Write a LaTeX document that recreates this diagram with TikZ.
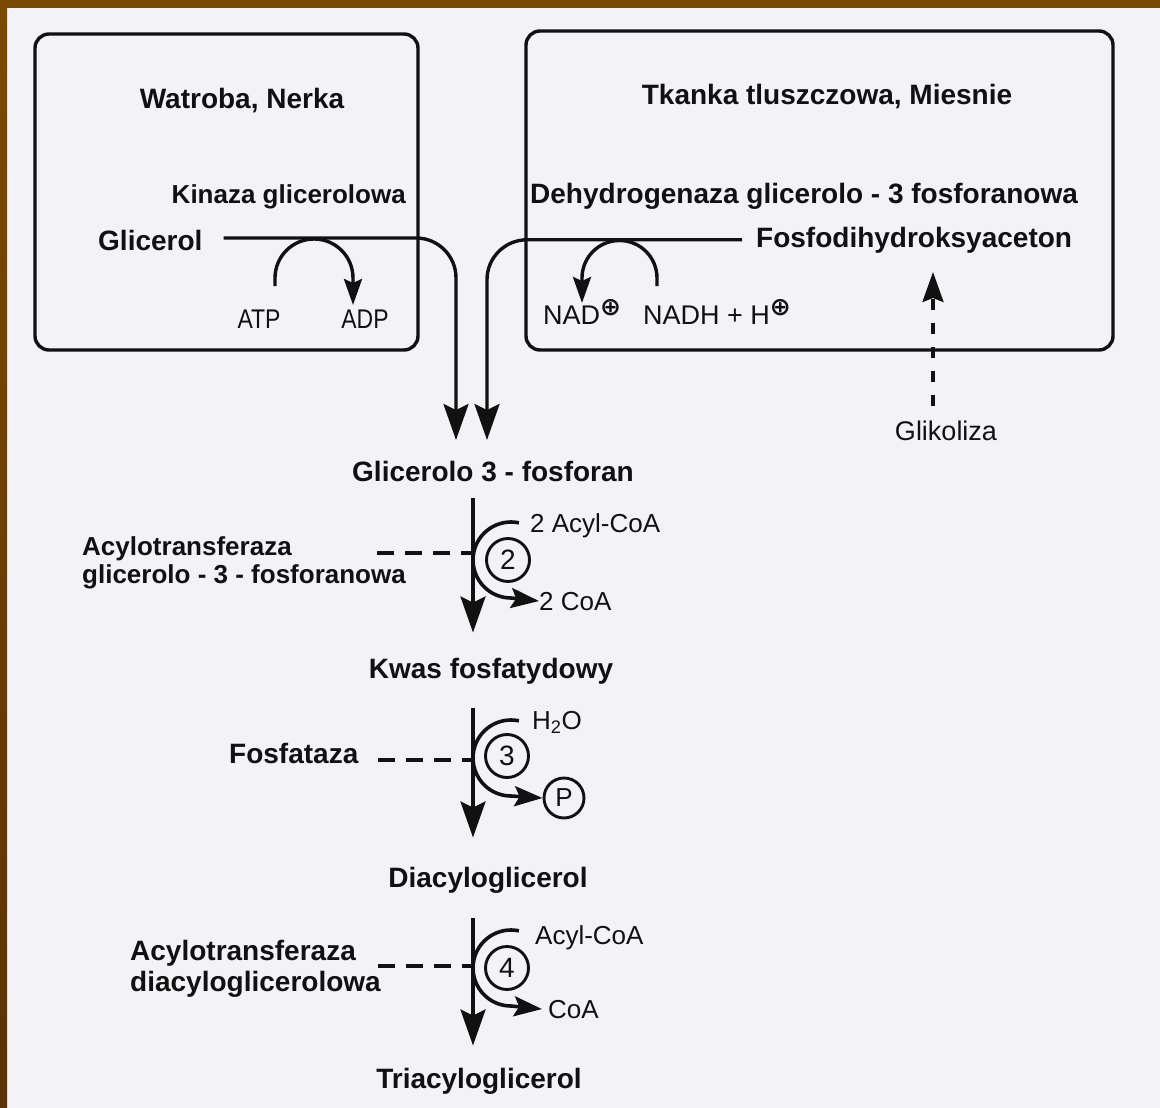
\documentclass[tikz,border=0pt]{standalone}
\usepackage{fontspec}
\setmainfont{Liberation Sans}
\newfontfamily\symfont{DejaVu Sans}
\usepackage{graphicx}
\usetikzlibrary{arrows.meta}
\definecolor{bgc}{RGB}{243,243,247}
\definecolor{frametop}{RGB}{122,74,2}
\definecolor{framebot}{RGB}{92,50,6}
\definecolor{ink}{RGB}{17,17,17}
\tikzset{
  lbl/.style={inner sep=0pt, text=ink, font=\fontsize{28}{32}\selectfont\bfseries},
  lblsm/.style={inner sep=0pt, text=ink, font=\fontsize{26}{30}\selectfont\bfseries},
  reg/.style={inner sep=0pt, text=ink, font=\fontsize{26}{30}\selectfont},
  boxst/.style={draw=ink, line width=3.4pt, rounded corners=14pt},
  mainline/.style={draw=ink, line width=3.4pt, -{Stealth[length=36pt,width=25pt,inset=6pt]}},
  sidearc/.style={draw=ink, line width=3.6pt, -{Stealth[length=28pt,width=20pt,inset=5pt]}},
  cofarc/.style={draw=ink, line width=3.4pt, -{Stealth[length=26pt,width=18pt,inset=4pt]}},
  enz/.style={draw=ink, line width=3.6pt, dash pattern=on 17pt off 11pt},
  glikst/.style={draw=ink, line width=3.2pt, dash pattern=on 11pt off 13pt, -{Stealth[length=30pt,width=21pt,inset=4pt]}},
  numc/.style={circle, draw=ink, line width=2.9pt, minimum size=43pt, inner sep=0pt, text=ink, font=\fontsize{28}{30}\selectfont},
  pc/.style={circle, draw=ink, line width=2.9pt, minimum size=40pt, inner sep=0pt, text=ink, font=\fontsize{26}{28}\selectfont},
}
\newcommand{\plusc}{\raisebox{9pt}{\symfont\bfseries\fontsize{25}{25}\selectfont ⊕}}
\begin{document}
\begin{tikzpicture}[x=1pt,y=1pt]
% background and frame
\fill[bgc] (0,0) rectangle (1160,-1108);
\fill[frametop] (0,0) rectangle (1160,-8);
\shade[top color=frametop, bottom color=framebot] (0,0) rectangle (7,-1108);
\useasboundingbox (0,0) rectangle (1160,-1108);

% boxes
\draw[boxst] (35,-34) rectangle (418,-350);
\draw[boxst] (526,-31) rectangle (1113,-350);

% titles
\node[lbl, anchor=base] (liver) at (242,-109) {Watroba, Nerka};
\node[lbl, anchor=base] (tissue) at (827,-104) {Tkanka tluszczowa, Miesnie};

% enzymes top
\node[lbl, anchor=base east, font=\fontsize{26}{30}\selectfont\bfseries] (kinaza) at (406,-203) {Kinaza glicerolowa};
\node[lbl, anchor=base west] (dehyd) at (530,-203) {Dehydrogenaza glicerolo - 3 fosforanowa};

% substrates top
\node[lbl, anchor=base west] (glicerol) at (98,-250) {Glicerol};
\node[lbl, anchor=base west] (dhap) at (756,-247) {Fosfodihydroksyaceton};

% cofactors
\node[reg, anchor=base, font=\fontsize{27}{30}\selectfont] (atp) at (259,-328) {\scalebox{0.85}[1]{ATP}};
\node[reg, anchor=base, font=\fontsize{27}{30}\selectfont] (adp) at (365,-328) {\scalebox{0.85}[1]{ADP}};
\node[reg, anchor=base west, font=\fontsize{27}{30}\selectfont] (nad) at (543,-324) {NAD\plusc};
\node[reg, anchor=base west, font=\fontsize{27}{30}\selectfont] (nadh) at (643,-324) {NADH + H\plusc};

\node[reg, anchor=base, font=\fontsize{27}{30}\selectfont] (glik) at (946,-440) {Glikoliza};

% main chain
\node[lbl, anchor=base] (g3p) at (493,-481) {Glicerolo 3 - fosforan};
\node[lbl, anchor=base] (pa) at (491,-678) {Kwas fosfatydowy};
\node[lbl, anchor=base] (dag) at (488,-887) {Diacyloglicerol};
\node[lbl, anchor=base] (tag) at (479,-1088) {Triacyloglicerol};

% enzyme labels of steps
\node[lblsm, anchor=base west] (acyl1a) at (82,-555) {Acylotransferaza};
\node[lblsm, anchor=base west] (acyl1b) at (82,-583) {glicerolo - 3 - fosforanowa};
\node[lbl, anchor=base west] (fosfat) at (229,-763) {Fosfataza};
\node[lbl, anchor=base west] (acyl2a) at (130,-960) {Acylotransferaza};
\node[lbl, anchor=base west] (acyl2b) at (130,-991) {diacyloglicerolowa};

% side substrates
\node[reg, anchor=base west] (acoa2) at (530,-532) {2 Acyl-CoA};
\node[reg, anchor=base west] (coa2) at (539,-610) {2 CoA};
\node[reg, anchor=base west] (h2o) at (532,-729) {H\textsubscript{2}O};
\node[pc] (pcirc) at (564,-798) {P};
\node[reg, anchor=base west] (acoa4) at (535,-944) {Acyl-CoA};
\node[reg, anchor=base west] (coa4) at (548,-1018) {CoA};

% step circles
\node[numc] (c2) at (508,-560) {2};
\node[numc] (c3) at (507,-756) {3};
\node[numc] (c4) at (507,-968) {4};

% junction coordinates
\coordinate (s2) at (473,-553);
\coordinate (s3) at (473,-760);
\coordinate (s4) at (473,-966);
\coordinate (e2) at (377,-553);
\coordinate (e3) at (378,-760);
\coordinate (e4) at (378,-966);
\coordinate (tipL) at (456,-440);
\coordinate (tipR) at (487,-440);
\coordinate (glikBot) at (933,-406);
\coordinate (glikTip) at (933,-272);
\coordinate (atpStart) at (275,-286);
\coordinate (nadhStart) at (657,-286);

% top converging arrows
\draw[mainline, rounded corners=40pt] ([xshift=21pt,yshift=2pt]glicerol.east) -| (tipL);
\draw[mainline, rounded corners=40pt] ([xshift=-14pt]dhap.west) -| (tipR);

% cofactor arcs
\draw[cofarc] (atpStart) -- ++(0,8pt) arc[start angle=180, end angle=0, radius=39pt] -- ++(0,-27pt);
\draw[cofarc] (nadhStart) -- ++(0,8pt) arc[start angle=0, end angle=180, radius=37.5pt] -- ++(0,-25pt);

% glikoliza dashed arrow
\draw[glikst] (glikBot) -- (glikTip);

% main vertical steps
\draw[mainline, shorten <=16pt, shorten >=25pt] (g3p.south -| s2) -- (pa.north -| s2);
\draw[mainline, shorten <=24pt, shorten >=29pt] (pa.south -| s3) -- (dag.north -| s3);
\draw[mainline, shorten <=25pt, shorten >=22pt] (dag.south -| s4) -- (tag.north -| s4);

% enzyme dashed lines
\draw[enz] (e2) -- (s2);
\draw[enz] (e3) -- (s3);
\draw[enz] (e4) -- (s4);

% step arcs
\draw[sidearc] ([shift={(78:38pt)}]511,-560) arc[start angle=78, end angle=270, radius=38pt] -- (coa2.west);
\draw[sidearc] ([shift={(78:38pt)}]511,-758) arc[start angle=78, end angle=270, radius=38pt] -- (pcirc.west);
\draw[sidearc] ([shift={(78:38pt)}]511,-968) arc[start angle=78, end angle=270, radius=38pt] -- ([xshift=-6pt]coa4.west);
\end{tikzpicture}
\end{document}
